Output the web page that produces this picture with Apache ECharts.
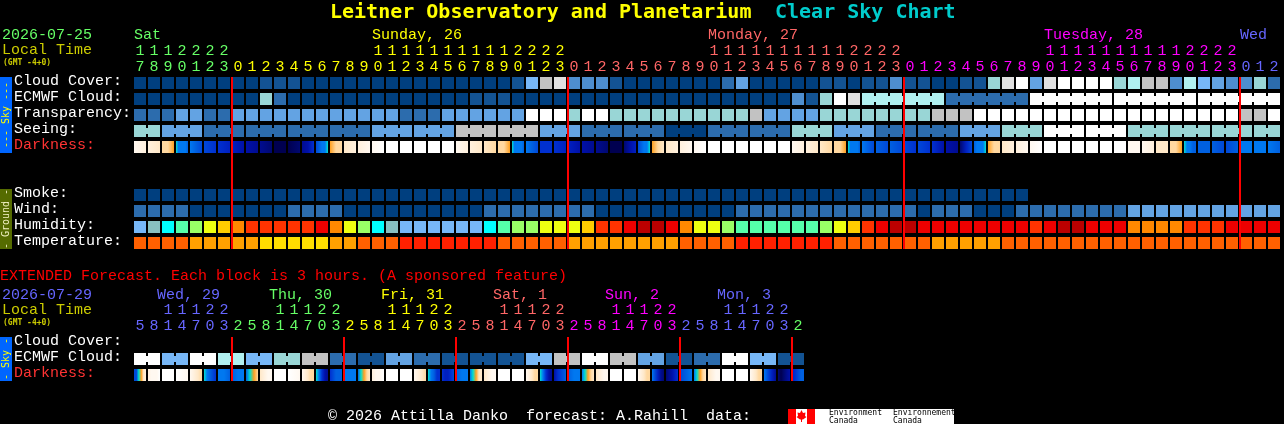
<!DOCTYPE html>
<html>
<head>
<meta charset="utf-8">
<style>html,body{margin:0;padding:0;background:#000;overflow:hidden}#c{width:1284px;height:424px}</style>
<script src="https://cdn.jsdelivr.net/npm/echarts@6/dist/echarts.min.js"></script>
</head>
<body>
<div id="c"></div>
<script>
// ---------- axes ----------
const mainHours = [17,18,19,20,21,22,23,
  0,1,2,3,4,5,6,7,8,9,10,11,12,13,14,15,16,17,18,19,20,21,22,23,
  0,1,2,3,4,5,6,7,8,9,10,11,12,13,14,15,16,17,18,19,20,21,22,23,
  0,1,2,3,4,5,6,7,8,9,10,11,12,13,14,15,16,17,18,19,20,21,22,23,
  0,1,2];
const extHours = [5,8,11,14,17,20,23,
  2,5,8,11,14,17,20,23, 2,5,8,11,14,17,20,23, 2,5,8,11,14,17,20,23,
  2,5,8,11,14,17,20,23, 2,5,8,11,14,17,20,23, 2];
const mainRows = ["Cloud Cover:","ECMWF Cloud:","Transparency:","Seeing:","Darkness:","","","Smoke:","Wind:","Humidity:","Temperature:"];
const extRows = ["Cloud Cover:","ECMWF Cloud:","Darkness:"];
const mainDays = ["Sat","Sunday, 26","Monday, 27","Tuesday, 28","Wed"];
const mainDayCols = [0,17,41,65,79];
const mainDayEnds = [7,31,55,79,82];
const extDays = ["Wed, 29","Thu, 30","Fri, 31","Sat, 1","Sun, 2","Mon, 3"];
const extDayCols = [2,10,18,26,34,42];
const extDayEnds = [7,15,23,31,39,47,48];
const midnightCols = [7,31,55,79];
const extMidnightCols = [7,15,23,31,39,47];

// ---------- colour scales ----------
const skyScale = ["#003f7f","#135393","#2c6cad","#4e8ecf","#63a3e3","#77b7f7","#99d6d6","#b0f0f0","#c2c2c2","#e0e0e0","#ffffff"];
const humidityScale = ["#77b7f7","#88c0c0","#00ffff","#55ffaa","#99ff66","#eeff11","#ffcc00","#ff8800","#ff3300","#ee0000","#bb0000"];
const temperatureScale = ["#ffdd00","#ffa000","#ff6000","#ff2000"];
const darknessScale = ["#ffffff","#fff8f0","#fff0dd","#ffe8c8","#ffd8a0","#ffa020","#00e0d0","#0078f0","#0060e0","#0048d8","#0030d0","#0020c0","#0010a8","#000c90","#000870","#000050"];
const dayColours = ["#66ff66","#ffff00","#ff6666","#ff00ff","#6666ff"];
const mainDayColours = [0,1,2,3,4];
const extDayColours = [4,0,1,2,3,4,0];

// ---------- main forecast ----------
const cloudCover = [0,0,0,0,0,0,0,0,0,1,1,1,0,0,0,0,0,0,0,0,0,0,0,0,0,0,0,1,5,8,9,3,3,3,1,0,0,0,0,0,0,0,2,4,0,0,0,0,0,1,1,0,1,1,3,1,1,0,0,1,1,6,9,10,4,9,10,10,10,10,6,7,8,8,3,7,5,4,3,3,6,2];
const ecmwfCloud = [0,0,0,0,0,0,0,0,0,6,2,0,0,0,0,0,0,0,0,0,0,0,0,0,1,1,1,0,0,0,0,0,0,0,0,0,0,0,0,0,0,0,0,0,0,0,0,3,1,6,10,9,7,2,10,10,10];
const ecmwfSpans = [1,1,1,1,1,1,1,1,1,1,1,1,1,1,1,1,1,1,1,1,1,1,1,1,1,1,1,1,1,1,1,1,1,1,1,1,1,1,1,1,1,1,1,1,1,1,1,1,1,1,1,1,6,6,6,6,6];
const transparency = [2,2,2,4,4,2,2,4,4,4,4,4,4,4,4,4,4,4,4,2,2,2,4,4,4,4,4,4,10,10,10,6,10,10,6,6,6,6,6,6,6,6,6,6,8,4,4,4,4,6,6,6,6,6,6,6,6,8,8,8,10,10,10,10,10,10,10,10,10,10,10,10,10,10,10,10,10,10,10,8,8,10];
const seeing = [6,4,2,2,2,2,4,4,8,8,4,2,2,0,2,2,6,4,2,2,4,6,10,10,6,6,6,6];
const seeingSpans = [2,3,3,3,3,3,3,3,3,3,3,3,3,3,3,3,3,3,3,3,3,3,3,3,3,3,3,2];
const darkness = [[1,2],[2,3],[4,4,5],[6,7,7,7,7,8],[7,8,9],[9,10],[10,11],[11,12],[12,13],[13,14],[15,15],[15,14],[13,12,10],[9,8,7,7,6],[5,4,4],[3,2],[2,1],[1,0],
 [0,0],[0,0],[0,0],[0,0],[0,0],[1,2],[2,3],[3,4],[4,4,5],[6,7,7,7,7,8],[7,8,9],[10,10],[10,11],[11,12],[12,13],[13,14],[15,15],[14,12,11],[9,8,7,7,6],[5,4,3],[3,2],[2,1],[1,0],
 [0,0],[0,0],[0,0],[0,0],[0,0],[0,0],[1,2],[2,3],[3,4],[4,4,5],[6,7,7,7,7,8],[7,9],[8,9],[8,9],[9,10],[9,10],[10,12],[12,13],[14,11,9],[8,7,7,7,6],[5,4,4],[3,2],[2,1],[1,0],
 [0,0],[0,0],[0,0],[0,0],[0,0],[0,0],[1,1],[1,2],[3,3],[4,4,5],[6,7,7,8,8],[8,8],[8,9],[9,8],[7,7],[7,7],[7,8]];
const smoke = [0,0,0,0,0,0,0,0,0,0,0,0,0,0,0,0,0,0,0,0,0,0,0,0,0,0,0,0,0,0,0,0,0,0,0,0,0,0,0,0,0,0,0,0,0,0,0,0,0,0,0,0,0,0,0,0,0,0,0,0,0,0,0,0];
const wind = [2,2,2,2,0,0,0,0,0,0,0,2,2,2,2,0,0,0,0,0,0,0,0,0,0,2,2,2,2,2,2,2,2,0,0,0,0,0,0,0,0,0,0,2,2,2,2,2,2,2,2,2,2,2,2,2,0,2,2,2,0,0,0,2,2,2,2,2,2,2,2,4,4,4,4,4,4,4,4,4,4,4];
const humidity = [0,1,2,3,4,5,6,7,8,8,8,8,8,9,7,5,4,2,1,0,0,0,0,0,0,2,3,4,4,5,5,5,6,8,8,9,10,10,9,7,5,5,4,3,3,3,3,3,3,4,5,6,8,9,10,10,9,9,9,9,9,9,9,9,8,9,10,10,9,9,9,7,7,7,7,8,8,8,9,9,9,9];
const temperature = [2,2,2,2,1,1,1,1,1,0,0,0,0,0,1,1,2,2,2,3,3,3,3,3,3,3,2,2,2,2,2,1,1,1,1,1,1,1,1,2,2,2,2,3,3,3,3,3,3,3,2,2,2,2,2,2,2,1,1,1,1,1,2,2,2,2,2,2,2,2,2,2,2,2,2,2,2,2,2,2,2,2];

// ---------- extended forecast ----------
const extEcmwf = [10,5,10,7,5,6,8,2,1,4,2,1,1,1,5,8,10,8,4,1,2,10,5,1];
const extSpans = [2,2,2,2,2,2,2,2,2,2,2,2,2,2,2,2,2,2,2,2,2,2,2,2];
const extDarkness = [[9,9,6,5,3,2],[2,1,1,1,0],[0,0],[0,1],[1,2,3,4],[6,7,8,9,10],[7,7,8],[8,7,7],[8,6,5,4],[3,2,1,1],[0,0],[0,1],[1,2,3,4,4],[6,7,10,12,13],[10,8,8],[7,7,7],
 [8,6,5,4,3],[2,1,1,0],[0,0],[0,0],[1,2,3,4],[6,7,8,10,10],[10,11,11,10,9],[8,7,7],[7,6,5,3,3],[3,2,1,1],[0,0],[0,0],[1,2,3,4,4],[6,7,10,12,13],[12,10,9,8],[8,7,7],
 [7,6,5,4,3],[3,2,1,1],[0,0],[0,0],[1,2,3,4,4],[7,9,11,13,14],[14,13,12,11,10],[9,8,7],[7,6,5,4,3],[3,2,1,1],[0,0],[0,0],[1,2,3,4,4],[7,9,11,13],[14,15,14,13,12],[11,10,9,8,8]];

// ---------- drawing ----------
const MONO = '"Liberation Mono"';
const TITLE = '"DejaVu Sans Mono"';
const CELL = 12, BRIDGE = 6;

function colourOf(ends, colours, col){
  for (let i = 0; i < ends.length; i++) if (col < ends[i]) return dayColours[colours[i]];
  return dayColours[colours[colours.length-1]];
}
function blockSeries(name, grid, row, values, scale, spans){
  const data = []; let col = 0;
  values.forEach((v,i) => { const s = spans ? spans[i] : 1; data.push([col,row,s,v]); col += s; });
  return {
    type:'custom', name, xAxisIndex:grid, yAxisIndex:grid, clip:false, silent:true, z:2,
    encode:{x:0,y:1}, data,
    renderItem(params, api){
      const c = api.coord([api.value(0), api.value(1)]);
      const pitch = api.size([1,0])[0];
      const span = api.value(2), fill = scale[api.value(3)];
      const children = [];
      for (let k = 0; k < span; k++) {
        children.push({type:'rect', shape:{x:c[0]-CELL/2+k*pitch, y:c[1]-CELL/2, width:CELL, height:CELL}, style:{fill}});
        if (k < span-1) children.push({type:'rect', shape:{x:c[0]+CELL/2+k*pitch, y:c[1]-BRIDGE/2, width:pitch-CELL, height:BRIDGE}, style:{fill}});
      }
      return {type:'group', children};
    }
  };
}
function gradientSeries(name, grid, row, cells){
  return {
    type:'custom', name, xAxisIndex:grid, yAxisIndex:grid, clip:false, silent:true, z:2,
    encode:{x:0,y:1}, data: cells.map((stops,i)=>[i,row]),
    renderItem(params, api){
      const c = api.coord([api.value(0), api.value(1)]);
      const levels = cells[params.dataIndex];
      const colorStops = levels.map((l,i)=>({offset:i/(levels.length-1), color:darknessScale[l]}));
      return {type:'rect', shape:{x:c[0]-CELL/2, y:c[1]-CELL/2, width:CELL, height:CELL},
        style:{fill:new echarts.graphic.LinearGradient(0,0,1,0,colorStops)}};
    }
  };
}
function midnightSeries(grid, cols, lastRow){
  return {
    type:'custom', name:'midnight', xAxisIndex:grid, yAxisIndex:grid, clip:false, silent:true, z:5,
    encode:{x:0}, data: cols.map(c=>[c]),
    renderItem(params, api){
      const a = api.coord([api.value(0), 0]), b = api.coord([api.value(0), lastRow]);
      return {type:'rect', shape:{x:a[0]-CELL/2-1, y:a[1]-CELL/2, width:2, height:b[1]-a[1]+CELL}, style:{fill:'#ff0000'}};
    }
  };
}
function dayLabelSeries(grid, labels, cols, ends, colours, dx, yOffset){
  return {
    type:'custom', name:'days', xAxisIndex:grid, yAxisIndex:grid, clip:false, silent:true, z:3,
    encode:{x:0}, data: cols.map(c=>[c]),
    renderItem(params, api){
      const col = api.value(0), a = api.coord([col, 0]);
      return {type:'text', style:{text:labels[params.dataIndex], x:a[0]+dx, y:a[1]+yOffset,
        fill:colourOf(ends,colours,col), font:'15px '+MONO, verticalAlign:'middle'}};
    }
  };
}
function hourAxis(grid, hours, ends, colours, margin){
  return {
    type:'category', gridIndex:grid, position:'top', boundaryGap:true,
    data: hours.map((h,i)=>({value:String(h), textStyle:{color:colourOf(ends,colours,i)}})),
    axisLine:{show:false}, axisTick:{show:false}, splitLine:{show:false},
    axisLabel:{interval:0, margin, hideOverlap:false, fontFamily:MONO, fontSize:15, lineHeight:16,
      formatter:v=>{const n=+v; return (n>=10?String(Math.floor(n/10)):' ')+'\n'+(n%10);}}
  };
}
function rowAxis(grid, rows){
  const rowStyle = c => ({color:c, fontFamily:MONO, fontSize:15, padding:[0,0,4,0]});
  return {
    type:'category', gridIndex:grid, inverse:true,
    data: rows.map(r=>({value:r, textStyle:{align:'left'}})),
    axisLine:{show:false}, axisTick:{show:false}, splitLine:{show:false},
    axisLabel:{interval:0, align:'left', margin:119, fontFamily:MONO, fontSize:15,
      formatter:v=> v ? '{'+(v==='Darkness:'?'dark':'plain')+'|'+v+'}' : '',
      rich:{plain:rowStyle('#ffffff'), dark:rowStyle('#ff3333')}}
  };
}
const t = (text,x,y,fill,font) => ({type:'text', silent:true, style:{text,x,y,fill,font:font||('15px '+MONO),verticalAlign:'middle'}});
const vt = (text,x,y,fill) => ({type:'text', silent:true, x, y, rotation:Math.PI/2, style:{text,x:0,y:0,fill,font:'10px '+TITLE,align:'center',verticalAlign:'middle'}});
const box = (x,y,w,h,fill) => ({type:'rect', silent:true, shape:{x,y,width:w,height:h}, style:{fill}});

const chart = echarts.init(document.getElementById('c'), null, {renderer:'canvas', width:1284, height:424});
chart.setOption({
  backgroundColor:'#000',
  animation:false,
  tooltip:{show:false},
  grid:[
    {left:133, top:75, width:1148, height:176, containLabel:false, outerBoundsMode:'none'},
    {left:133, top:335, width:672, height:48, containLabel:false, outerBoundsMode:'none'}
  ],
  xAxis:[hourAxis(0,mainHours,mainDayEnds,mainDayColours,0), hourAxis(1,extHours,extDayEnds,extDayColours,1)],
  yAxis:[rowAxis(0,mainRows), rowAxis(1,extRows)],
  series:[
    blockSeries('Cloud Cover',0,0,cloudCover,skyScale),
    blockSeries('ECMWF Cloud',0,1,ecmwfCloud,skyScale,ecmwfSpans),
    blockSeries('Transparency',0,2,transparency,skyScale),
    blockSeries('Seeing',0,3,seeing,skyScale,seeingSpans),
    gradientSeries('Darkness',0,4,darkness),
    blockSeries('Smoke',0,7,smoke,skyScale),
    blockSeries('Wind',0,8,wind,skyScale),
    blockSeries('Humidity',0,9,humidity,humidityScale),
    blockSeries('Temperature',0,10,temperature,temperatureScale),
    midnightSeries(0,midnightCols,10),
    dayLabelSeries(0,mainDays,mainDayCols,mainDayEnds,mainDayColours,-6,-48),
    blockSeries('Extended ECMWF Cloud',1,1,extEcmwf,skyScale,extSpans),
    gradientSeries('Extended Darkness',1,2,extDarkness),
    midnightSeries(1,extMidnightCols,2),
    dayLabelSeries(1,extDays,extDayCols,extDayEnds,extDayColours,-11,-48)
  ],
  graphic:[
    t('Leitner Observatory and Planetarium',330,13,'#ffff00','bold 20px '+TITLE),
    t('Clear Sky Chart',775,13,'#00cccc','bold 20px '+TITLE),
    t('2026-07-25',2,35,'#66ff66'),
    t('Local Time',2,50,'#cccc00'),
    t('(GMT -4+0)',3,63,'#cccc00','bold 8px '+TITLE),
    box(0,77,12,76,'#0066ff'),
    vt('--- Sky ---',6,115,'#ffff00'),
    box(0,189,12,60,'#556b00'),
    vt('- Ground -',6,219,'#f0f0c0'),
    t('EXTENDED Forecast. Each block is 3 hours. (A sponsored feature)',0,276,'#ff0000'),
    t('2026-07-29',2,295,'#6666ff'),
    t('Local Time',2,310,'#cccc00'),
    t('(GMT -4+0)',3,323,'#cccc00','bold 8px '+TITLE),
    box(0,337,12,44,'#0066ff'),
    vt('- Sky -',6,359,'#ffff00'),
    t('\u00a9 2026 Attilla Danko  forecast: A.Rahill  data:',328,416,'#ffffff'),
    box(788,409,166,15,'#ffffff'),
    box(788,409,8,15,'#ff0000'),
    box(807,409,8,15,'#ff0000'),
    {type:'polygon', silent:true, shape:{points:[[801.5,410],[803,413],[805.5,412.5],[805,416],[806.5,417],[803,419.5],[802,419.5],[802,422],[801,422],[801,419.5],[800,419.5],[796.5,417],[798,416],[797.5,412.5],[800,413]]}, style:{fill:'#ff0000'}},
    t('Environment',829,413,'#000','8px '+TITLE),
    t('Canada',829,420.5,'#000','8px '+TITLE),
    t('Environnement',893,413,'#000','8px '+TITLE),
    t('Canada',893,420.5,'#000','8px '+TITLE)
  ]
});
</script>
</body>
</html>
